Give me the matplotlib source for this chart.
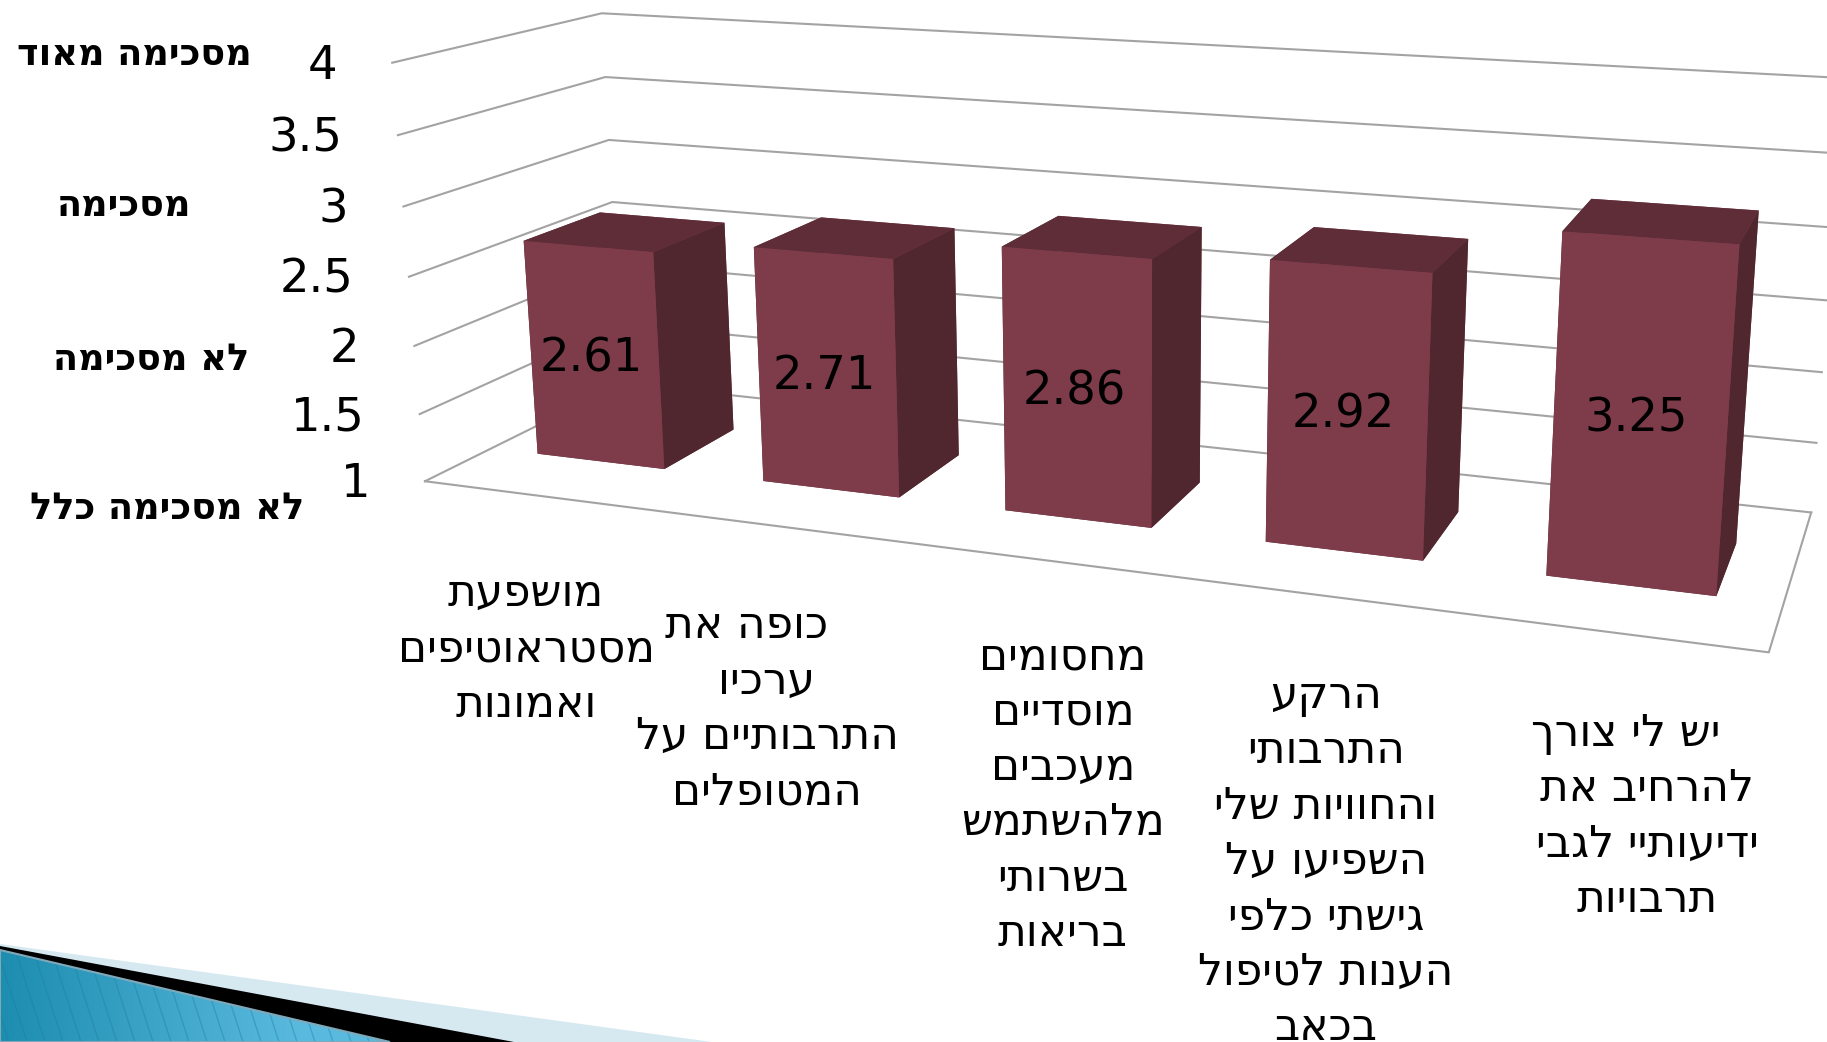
import numpy as np
import matplotlib
matplotlib.use("Agg")
import matplotlib.pyplot as plt
from matplotlib.patches import Polygon
from matplotlib.colors import LinearSegmentedColormap, to_rgba
from mpl_toolkits.mplot3d import Axes3D  # noqa

W, H = 1827, 1042

# ---- data
categories = [
    ["מושפעת", "מסטראוטיפים", "ואמונות"],
    ["   כופה את", "ערכיו", "התרבותיים על", "המטופלים"],
    ["מחסומים", "מוסדיים", "מעכבים", "מלהשתמש", "בשרותי", "בריאות"],
    ["הרקע", "התרבותי", "והחוויות שלי", "השפיעו על", "גישתי כלפי", "הענות לטיפול", "בכאב"],
    ["   יש לי צורך", "להרחיב את", "ידיעותיי לגבי", "תרבויות"],
]
values = [2.61, 2.71, 2.86, 2.92, 3.25]
z_ticks = [1, 1.5, 2, 2.5, 3, 3.5, 4]
z_tick_labels = ["1", "1.5", "2", "2.5", "3", "3.5", "4"]
scale_labels = ["לא מסכימה כלל", "לא מסכימה", "מסכימה", "מסכימה מאוד"]

# ---- layout
scale_label_pos = [(304, 519), (249, 370), (191, 216), (252, 65)]
cat_first_baseline = [606, 638, 669, 708, 746]
cat_center_x = [526, 767, 1063, 1326, 1647]
cat_line_h = 55.4
bar_w = 0.57
bar_left = 0.212
y0, y1 = 0.31, 0.695
z_floor = 1
label_dx, label_dz = -0.012, -0.028

# camera calibration: frame corners (x category, y depth, z value) -> picture pixel
cal_world = [(0, 0, 1), (0, 0, 2.5), (0, 0, 4), (0, 1, 2.5), (0, 1, 3), (0, 1, 4),
             (5, 1, 1), (5, 1, 2), (5, 1, 4), (5, 0, 1)]
cal_pixel = [(425, 481), (409, 277), (392, 63), (612, 202), (609, 140), (602, 13),
             (1811, 513), (1822, 372), (1844, 78), (1769, 652)]


def rtl(s):
    return s[::-1]


def solve_camera(world, pixel):
    rows = []
    for (X, Y, Z), (u, v) in zip(world, pixel):
        rows.append([X, Y, Z, 1, 0, 0, 0, 0, -u * X, -u * Y, -u * Z, -u])
        rows.append([0, 0, 0, 0, X, Y, Z, 1, -v * X, -v * Y, -v * Z, -v])
    A = np.array(rows, float)
    Vh = np.linalg.svd(A)[2]
    P = Vh[-1].reshape(3, 4)
    if P[2] @ np.array([0, 0, 1, 1]) < 0:
        P = -P
    return P / (P[2] @ np.array([2.5, 0.5, 2, 1]))


P = solve_camera(cal_world, cal_pixel)


def to_px(x, y, z):
    v = P @ np.array([x, y, z, 1.0])
    return v[0] / v[2], v[1] / v[2]


plt.rcParams["font.family"] = ["DejaVu Sans"]
fig = plt.figure(figsize=(W / 100, H / 100), dpi=100, facecolor="white")

# ---- theme ribbon, bottom left
bg = fig.add_axes([0, 0, 1, 1], zorder=-1)
bg.axis("off")
bg.add_patch(Polygon([(0, 944), (712, 1042), (0, 1042)], fc="#D6E9F1", ec="none"))
bg.add_patch(Polygon([(0, 946), (514, 1042), (0, 1042)], fc="black", ec="none"))
blue_corners = [(0, 950), (390, 1042), (0, 1042)]
cmap = LinearSegmentedColormap.from_list("b", ["#1D8DB0", "#5ABADE"])
im = bg.imshow(np.clip(np.linspace(0, 1.33, 256), 0, 1).reshape(1, -1),
               extent=(0, 400, 1042, 940), cmap=cmap, aspect="auto", zorder=1)
im.set_clip_path(Polygon(blue_corners, transform=bg.transData))
for sx in np.arange(-60, 400, 18):
    ln, = bg.plot([sx, sx + 33], [940, 1042], color="#1A7FA3", alpha=0.4, lw=1.0, zorder=2)
    ln.set_clip_path(Polygon(blue_corners, transform=bg.transData))
bg.add_patch(Polygon(blue_corners, fc="none", ec="#7FA9BA", lw=1.5, zorder=3))
bg.set_xlim(0, W)
bg.set_ylim(H, 0)

# ---- 3D axes using the calibrated camera
ax = fig.add_axes([0, 0, 1, 1], projection="3d")
ax.apply_aspect = lambda position=None: None
ax.patch.set_alpha(0)
ax.set_xticks([])
ax.set_yticks([])
ax.set_zticks([])
ax.set_axis_off()
for axis in (ax.xaxis, ax.yaxis, ax.zaxis):
    axis.set_visible(False)
    for t in (axis.label, axis.offsetText):
        t.set_transform(fig.transFigure)
        t.set_position((0.5, 0.5))
        t.set_visible(False)
ax.computed_zorder = False


def get_proj():
    inv = ax.transData.inverted().get_matrix()
    flip = np.array([[1, 0, 0], [0, -1, H], [0, 0, 1.0]])
    Q = inv @ flip @ P
    return np.vstack([Q[0], Q[1], [0, 0, 0, -1.0], Q[2]])


ax.get_proj = get_proj

grid_c = "#A3A3A3"
for z in z_ticks:
    ax.plot([0, 0, 5], [0, 1, 1], [z, z, z], color=grid_c, lw=1.5, zorder=1)
ax.plot([0, 5, 5], [0, 0, 1], [z_floor] * 3, color=grid_c, lw=1.5, zorder=1)

n = len(values)
xs = np.arange(n) + bar_left
front, top, side = "#7E3C4B", "#5E2D38", "#50262F"
face_cols = [to_rgba(c) for c in (top, top, front, front, side, side)] * n
ax.bar3d(xs, [y0] * n, [z_floor] * n, [bar_w] * n, [y1 - y0] * n,
         np.array(values) - z_floor, color=face_cols, shade=False, zorder=2)

for i, v in enumerate(values):
    ax.text(xs[i] + bar_w / 2 + label_dx, y0, (v + z_floor) / 2 + label_dz, f"{v:g}",
            fontsize=33.5, color="black", ha="center", va="center", zorder=5)

# ---- texts
for z, lab in zip(z_ticks, z_tick_labels):
    px, py = to_px(0, 0, z)
    fig.text((px - 55) / W, 1 - (py + 16) / H, lab, fontsize=33.5, ha="right", va="baseline")

for lab, (px, py) in zip(scale_labels, scale_label_pos):
    fig.text(px / W, 1 - py / H, rtl(lab), fontsize=26.4, fontweight="bold",
             ha="right", va="baseline")

for lines, cx, b in zip(categories, cat_center_x, cat_first_baseline):
    for j, line in enumerate(lines):
        fig.text(cx / W, 1 - (b + j * cat_line_h) / H, rtl(line), fontsize=31.5,
                 ha="center", va="baseline")

fig.savefig("out.png", dpi=100)
